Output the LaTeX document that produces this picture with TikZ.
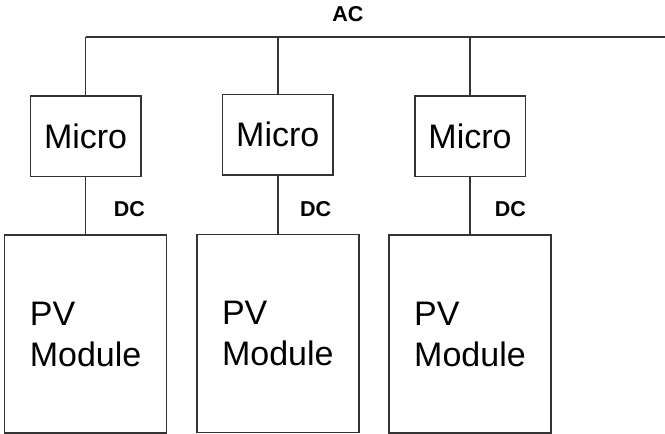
\documentclass[tikz,border=0pt]{standalone}
\usepackage{fontspec}
\setmainfont{Liberation Sans}
\begin{document}
\begin{tikzpicture}[x=1pt,y=-1pt,
  wire/.style={line width=1.5pt,draw=linecol},
  microbox/.style={draw=linecol,line width=1.5pt,inner sep=0pt,minimum width=110.5pt,minimum height=80.5pt,font=\fontsize{34}{40}\selectfont},
  pvbox/.style={draw=linecol,line width=1.5pt,inner sep=0pt,minimum width=162pt,minimum height=198pt,align=left,font=\fontsize{34}{41}\selectfont},
  lbl/.style={inner sep=0pt,font=\fontsize{21.5}{25}\selectfont\bfseries}]
\definecolor{linecol}{RGB}{51,51,51}
\useasboundingbox (0,0) rectangle (665,434);
% AC bus
\node[lbl] (ac) at (348,14) {AC};
\coordinate (b1) at (85.6,37);
\coordinate (b2) at (277.8,37);
\coordinate (b3) at (470,37);
\coordinate (bend) at (665,37);
\draw[wire] (b1) -- (bend);
% Micro inverters
\node[microbox] (m1) at (85.6,136.3) {Micro};
\node[microbox] (m2) at (277.8,134.5) {Micro};
\node[microbox] (m3) at (470,136.3) {Micro};
% PV modules
\node[pvbox] (p1) at (85.6,334) {PV\\Module};
\node[pvbox] (p2) at (277.8,333.4) {PV\\Module};
\node[pvbox] (p3) at (470,334) {PV\\Module};
% connectors
\draw[wire] (b1) -- (m1.north);
\draw[wire] (b2) -- (m2.north);
\draw[wire] (b3) -- (m3.north);
\draw[wire] (m1.south) -- (p1.north);
\draw[wire] (m2.south) -- (p2.north);
\draw[wire] (m3.south) -- (p3.north);
% DC labels
\node[lbl] (dc1) at (129.5,209.5) {DC};
\node[lbl] (dc2) at (315.6,209.5) {DC};
\node[lbl] (dc3) at (510.5,209.5) {DC};
\end{tikzpicture}
\end{document}
